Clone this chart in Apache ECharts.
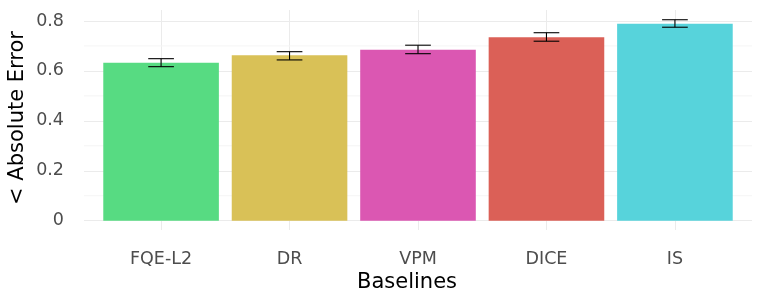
<!DOCTYPE html>
<html><head><meta charset="utf-8">
<script src="https://cdn.jsdelivr.net/npm/echarts@6/dist/echarts.min.js"></script>
<style>html,body{margin:0;padding:0;background:#fff}#c{width:761px;height:304px}</style>
</head><body><div id="c"></div>
<script>
const categories = ['FQE-L2', 'DR', 'VPM', 'DICE', 'IS'];
const means = [0.633, 0.663, 0.685, 0.735, 0.789];
const lower = [0.617, 0.644, 0.669, 0.719, 0.775];
const upper = [0.649, 0.677, 0.703, 0.753, 0.805];
const barColors = ['#57DB82', '#D9C157', '#DB57B2', '#DB6057', '#57D3DB'];
const minorTicks = [0.1, 0.3, 0.5, 0.7];
const xTitle = 'Baselines';
const yTitle = '< Absolute Error';

const FONT = 'DejaVu Sans';
const chart = echarts.init(document.getElementById('c'), null, {renderer: 'canvas'});

const barData = means.map((v, i) => ({value: [i + 1, v], itemStyle: {color: barColors[i]}}));
const errData = means.map((v, i) => [i + 1, lower[i], upper[i]]);
const minorData = minorTicks.map(v => [1, v]);

chart.setOption({
  animation: false,
  backgroundColor: '#fff',
  grid: {left: 84, right: 9, top: 10, bottom: 74, containLabel: false},
  xAxis: {
    type: 'value', min: 0.4, max: 5.6,
    axisLine: {show: false}, axisTick: {show: false},
    splitLine: {show: true, showMinLine: false, showMaxLine: false, lineStyle: {color: '#ebebeb', width: 1}},
    axisLabel: {
      show: true, margin: 20, color: '#4d4d4d', fontFamily: FONT, fontSize: 17.5,
      showMinLabel: false, showMaxLabel: false,
      formatter: v => {
        const k = Math.round(v);
        return (Math.abs(v - k) < 1e-6 && k >= 1 && k <= categories.length) ? categories[k - 1] : '';
      }
    }
  },
  yAxis: {
    type: 'value', min: -0.0373, max: 0.844,
    axisLine: {show: false}, axisTick: {show: false},
    splitLine: {show: true, showMinLine: false, showMaxLine: false, lineStyle: {color: '#ebebeb', width: 1}},
    axisLabel: {
      show: true, margin: 20, color: '#4d4d4d', fontFamily: FONT, fontSize: 17.5,
      showMinLabel: false, showMaxLabel: false,
      formatter: v => {
        if (v < -1e-9 || v > 0.8 + 1e-9) return '';
        return Math.abs(v) < 1e-9 ? '0' : v.toFixed(1);
      }
    }
  },
  graphic: [
    {type: 'text', x: 407, y: 283, style: {text: xTitle, fontFamily: FONT, fontSize: 21, fill: '#000', textAlign: 'center', textVerticalAlign: 'middle'}, z: 10},
    {type: 'text', x: 18, y: 118, rotation: Math.PI / 2, style: {text: yTitle, fontFamily: FONT, fontSize: 21, fill: '#000', textAlign: 'center', textVerticalAlign: 'middle'}, z: 10}
  ],
  series: [
    {
      type: 'custom', z: 0, silent: true,
      data: minorData,
      renderItem: (params, api) => {
        const cs = params.coordSys;
        const y = api.coord([1, api.value(1)])[1];
        return {type: 'line', shape: {x1: cs.x, y1: y, x2: cs.x + cs.width, y2: y}, style: {stroke: '#f5f5f5', lineWidth: 1}};
      }
    },
    {
      type: 'bar', z: 2, barWidth: 115.6, data: barData, silent: true
    },
    {
      type: 'custom', z: 3, silent: true,
      data: errData,
      renderItem: (params, api) => {
        const x = api.value(0);
        const lo = api.coord([x, api.value(1)]);
        const hi = api.coord([x, api.value(2)]);
        const half = api.size([0.2, 0])[0] / 2;
        const st = {stroke: '#000', lineWidth: 1.1};
        return {type: 'group', children: [
          {type: 'line', shape: {x1: lo[0], y1: lo[1], x2: hi[0], y2: hi[1]}, style: st},
          {type: 'line', shape: {x1: lo[0] - half, y1: lo[1], x2: lo[0] + half, y2: lo[1]}, style: st},
          {type: 'line', shape: {x1: hi[0] - half, y1: hi[1], x2: hi[0] + half, y2: hi[1]}, style: st}
        ]};
      }
    }
  ]
});
</script></body></html>
